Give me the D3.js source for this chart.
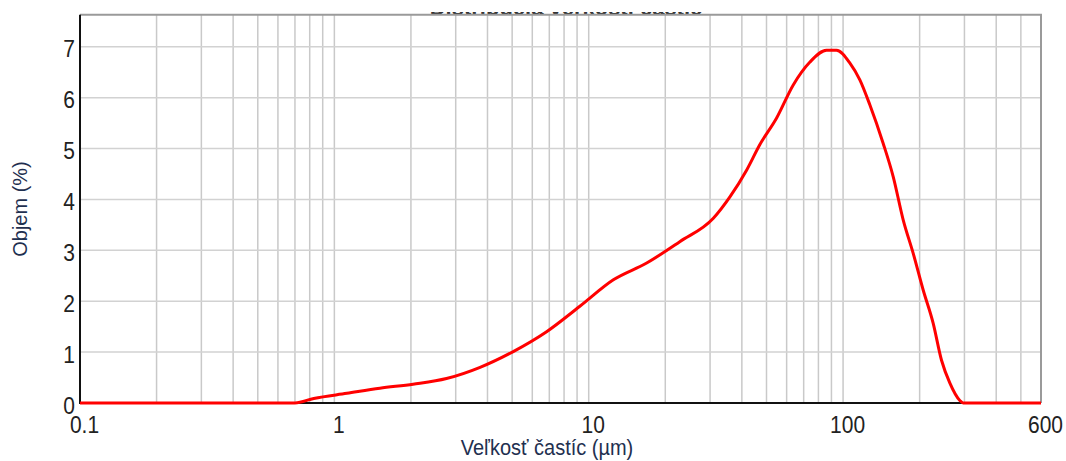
<!DOCTYPE html>
<html>
<head>
<meta charset="utf-8">
<script src="https://cdn.jsdelivr.net/npm/d3@7"></script>
<style>
  html, body { margin: 0; padding: 0; background: #fff; }
  svg { display: block; }
  text { font-family: "Liberation Sans", Arial, sans-serif; }
</style>
</head>
<body>
<div id="chart"></div>
<script>
// particle size distribution (µm vs volume %)
const sizes = [0.1, 0.7, 0.83, 1.12, 1.51, 2.04, 2.76, 3.74, 5.05, 6.83, 9.23, 12.5, 16.9, 22.8, 30.9, 35.9,
  41.8, 47.1, 54.8, 63.7, 74.1, 86.1, 94.2, 106.4, 116.4, 127.4, 143.8, 157.4, 172.3, 188.7, 206.5,
  226, 243.8, 263, 287.7, 296.6, 600];
const volume = [0, 0, 0.09, 0.19, 0.29, 0.37, 0.48, 0.70, 1.01, 1.40, 1.90, 2.42, 2.75, 3.17, 3.63, 4.05,
  4.58, 5.08, 5.6, 6.25, 6.7, 6.93, 6.93, 6.68, 6.35, 5.86, 5.1, 4.45, 3.6, 2.94, 2.22,
  1.57, 0.84, 0.39, 0.05, 0, 0];

const xTickLabels = [0.1, 1, 10, 100, 600];
const yTickLabels = [0, 1, 2, 3, 4, 5, 6, 7];
const xGridValues = [0.2, 0.3, 0.4, 0.5, 0.6, 0.7, 0.8, 0.9, 1, 2, 3, 4, 5, 6, 7, 8, 9, 10,
  20, 30, 40, 50, 60, 70, 80, 90, 100, 200, 300, 400, 500];

const titleText = "Distribúcia veľkosti častíc";
const xTitle = "Veľkosť častíc (µm)";
const yTitle = "Objem (%)";

const width = 1066, height = 461;
const plotLeft = 80, plotRight = 1041, plotTop = 14.7, plotBottom = 403;

const svg = d3.select("#chart").append("svg")
  .attr("width", width)
  .attr("height", height);

const x = d3.scaleLog().domain([0.1, 600]).range([plotLeft, plotRight]);
const y = d3.scaleLinear().domain([0, 7.63]).range([plotBottom, plotTop]);

// grid
svg.append("g")
  .selectAll("line")
  .data(xGridValues)
  .join("line")
  .attr("x1", d => x(d)).attr("x2", d => x(d))
  .attr("y1", plotTop).attr("y2", plotBottom)
  .attr("stroke", "#c9c9c9")
  .attr("stroke-width", 1.5);

svg.append("g")
  .selectAll("line")
  .data(yTickLabels.slice(1))
  .join("line")
  .attr("x1", plotLeft).attr("x2", plotRight)
  .attr("y1", d => y(d)).attr("y2", d => y(d))
  .attr("stroke", "#d2d2d2")
  .attr("stroke-width", 1.5);

// title is cut off by the top edge, only its lower fringe shows
svg.append("clipPath").attr("id", "titleClip")
  .append("rect").attr("x", 0).attr("y", 12).attr("width", width).attr("height", 4);
svg.append("text")
  .attr("clip-path", "url(#titleClip)")
  .attr("x", 566).attr("y", 15)
  .attr("text-anchor", "middle")
  .attr("font-size", 22)
  .attr("font-weight", "bold")
  .attr("fill", "#333")
  .text(titleText);

// frame
svg.append("path")
  .attr("d", `M${plotLeft},${plotTop}H${plotRight}V${plotBottom}`)
  .attr("fill", "none")
  .attr("stroke", "#9a9a9a")
  .attr("stroke-width", 2);

svg.append("path")
  .attr("d", `M${plotLeft},${plotTop}V${plotBottom}H${plotRight}`)
  .attr("fill", "none")
  .attr("stroke", "#111")
  .attr("stroke-width", 2);

// tick labels via d3 axes
const xAxis = svg.append("g")
  .attr("transform", `translate(0,${plotBottom})`)
  .call(d3.axisBottom(x).tickValues(xTickLabels).tickSize(0).tickFormat(d3.format("~g")));
xAxis.select(".domain").remove();
xAxis.selectAll("text")
  .attr("y", null).attr("dy", null)
  .attr("transform", "translate(4,30) scale(1,1.12)")
  .attr("font-size", 21)
  .attr("font-family", "Liberation Sans, Arial, sans-serif")
  .attr("fill", "#222");

const yAxis = svg.append("g")
  .attr("transform", `translate(${plotLeft},0)`)
  .call(d3.axisLeft(y).tickValues(yTickLabels).tickSize(0));
yAxis.select(".domain").remove();
yAxis.selectAll("text")
  .attr("x", null).attr("dy", null)
  .attr("transform", "translate(-5,10) scale(1,1.12)")
  .attr("text-anchor", "end")
  .attr("font-size", 21)
  .attr("font-family", "Liberation Sans, Arial, sans-serif")
  .attr("fill", "#222");

// curve
const line = d3.line()
  .x((d, i) => x(sizes[i]))
  .y(d => y(d))
  .curve(d3.curveMonotoneX);

svg.append("path")
  .datum(volume)
  .attr("d", line)
  .attr("fill", "none")
  .attr("stroke", "#ff0000")
  .attr("stroke-width", 3)
  .attr("stroke-linejoin", "round");

// axis titles
svg.append("text")
  .attr("transform", "translate(547,455) scale(1,1.12)")
  .attr("text-anchor", "middle")
  .attr("font-size", 20)
  .attr("fill", "#1f3050")
  .text(xTitle);

svg.append("text")
  .attr("transform", "translate(27,209) rotate(-90)")
  .attr("text-anchor", "middle")
  .attr("font-size", 20)
  .attr("fill", "#1f3050")
  .text(yTitle);
</script>
</body>
</html>
